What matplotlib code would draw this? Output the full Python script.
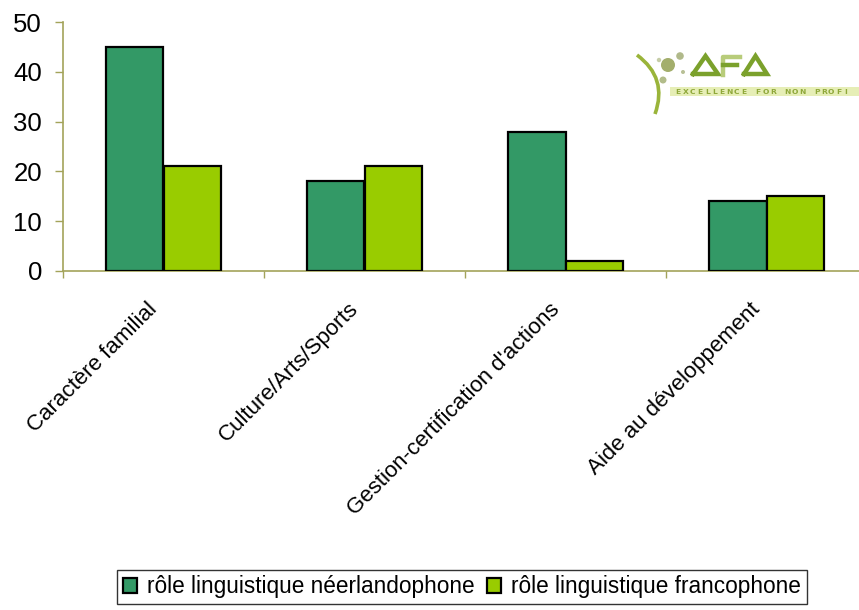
import matplotlib
matplotlib.use("Agg")
import matplotlib.pyplot as plt
from matplotlib.patches import Rectangle, Circle, PathPatch
from matplotlib.path import Path
import numpy as np

categories = ["Caractère familial", "Culture/Arts/Sports",
              "Gestion-certification d'actions", "Aide au développement"]
series_names = ["rôle linguistique néerlandophone", "rôle linguistique francophone"]
neerlandophone = [45, 18, 28, 14]
francophone = [21, 21, 2, 15]
yticks = [0, 10, 20, 30, 40, 50]
logo_tagline = "EXCELLENCE FOR NON PROFI"

plt.rcParams['font.family'] = ['Liberation Sans', 'DejaVu Sans']

W, H = 859, 610
fig = plt.figure(figsize=(W / 100, H / 100), dpi=100)
ax = fig.add_axes([63 / W, 1 - 271 / H, 804 / W, 249 / H])

axis_col = "#A3A35A"
dark = "#339966"
light = "#99CC00"
bw = 0.284
x = np.arange(len(categories)) + 0.5
ax.bar(x - bw / 2, neerlandophone, width=bw, color=dark, edgecolor="black",
       linewidth=1.6, label=series_names[0], zorder=3)
ax.bar(x + bw / 2, francophone, width=bw, color=light, edgecolor="black",
       linewidth=1.6, label=series_names[1], zorder=3)

ax.set_xlim(0, 4)
ax.set_ylim(0, 50)
ax.set_yticks(yticks)
ax.set_yticklabels([str(v) for v in yticks], fontsize=18.5)
ax.tick_params(axis='y', length=5.8, width=1, color=axis_col, pad=9.4)
ax.set_xticks([0, 1, 2, 3, 4])
ax.set_xticklabels([])
ax.tick_params(axis='x', length=5, width=1, color=axis_col)
for xc, lab in zip(x, categories):
    ax.annotate(lab, xy=(xc, 0), xycoords=('data', 'axes fraction'),
                xytext=(-12, -20), textcoords='offset points',
                rotation=45, rotation_mode='anchor', ha='right', va='top',
                fontsize=16, annotation_clip=False)
for s in ['top', 'right']:
    ax.spines[s].set_visible(False)
for s in ['left', 'bottom']:
    ax.spines[s].set_color(axis_col)
    ax.spines[s].set_linewidth(1.2)

leg = fig.legend(loc='center', bbox_to_anchor=(462 / W, 1 - 587 / H), ncol=2,
                 fontsize=16.3, frameon=True, fancybox=False, edgecolor='black',
                 handlelength=0.62, handleheight=0.62, handletextpad=0.45,
                 columnspacing=0.55, borderpad=0.25, borderaxespad=0)
leg.get_frame().set_linewidth(1.0)

# Logo (drawn in figure pixel coordinates)
lax = fig.add_axes([630 / W, 1 - 118 / H, 229 / W, 78 / H])
lax.set_xlim(630, 859)
lax.set_ylim(118, 40)
lax.axis('off')
lax.add_patch(Rectangle((670, 86.5), 200, 9.5, color="#E6EEB6", zorder=1, lw=0))
for i, ch in enumerate(logo_tagline):
    lax.text(678 + 7.3 * i, 91.5, ch, fontsize=5.4, color="#8FA83A",
             va='center', ha='center', fontweight='bold',
             family='DejaVu Sans', zorder=2)
curve = Path([(637, 55), (668, 78), (655, 114)],
             [Path.MOVETO, Path.CURVE3, Path.CURVE3])
lax.add_patch(PathPatch(curve, fill=False, edgecolor="#9AB43A", lw=2.6, zorder=2))
for (cx, cy, r, c) in [(668, 65, 7.0, "#A3AE6C"), (680, 56, 3.8, "#B0B98A"),
                       (683, 72, 2.0, "#B8C096"), (663, 80, 3.5, "#B2BC8A"),
                       (659, 60, 2.2, "#C6CDA8")]:
    lax.add_patch(Circle((cx, cy), r, color=c, zorder=3, lw=0))
g = "#7BA12C"
lw = 3.2
lax.plot([693, 705.5, 718, 693], [74, 56, 74, 74], color=g, lw=lw,
         solid_joinstyle='miter', zorder=3)
lax.plot([740, 723, 723], [56.5, 56.5, 75], color="#B8CC7A", lw=lw, zorder=3)
lax.plot([723, 737], [65, 65], color=g, lw=lw, zorder=3)
lax.plot([744, 755.5, 767, 744], [74, 56, 74, 74], color=g, lw=lw,
         solid_joinstyle='miter', zorder=3)

fig.savefig("out.png", dpi=100)
